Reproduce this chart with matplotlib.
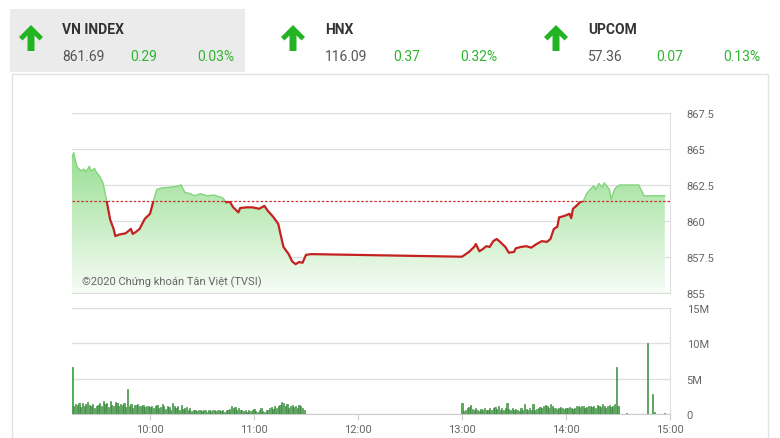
import numpy as np
import matplotlib
matplotlib.use("Agg")
import matplotlib.pyplot as plt
from matplotlib.colors import LinearSegmentedColormap
from matplotlib.patches import Rectangle, Polygon

plt.rcParams['font.family'] = ['Roboto', 'DejaVu Sans']

# header boxes
index_names = ["VN INDEX", "HNX", "UPCOM"]
index_values = ["861.69", "116.09", "57.36"]
index_changes = ["0.29", "0.37", "0.07"]
index_pcts = ["0.03%", "0.32%", "0.13%"]

# VN-Index intraday
ref_price = 861.40
price_times = ["09:15", "09:16", "09:17", "09:18", "09:20", "09:22", "09:23", "09:25",
               "09:26", "09:28", "09:29", "09:31", "09:33", "09:35", "09:37", "09:39",
               "09:40", "09:42", "09:44", "09:46", "09:49", "09:50", "09:52", "09:54",
               "09:57", "10:00", "10:02", "10:04", "10:07", "10:12", "10:15", "10:18",
               "10:20", "10:23", "10:26", "10:29", "10:33", "10:37", "10:42", "10:44",
               "10:46", "10:48", "10:51", "10:52", "10:56", "10:59", "11:03", "11:06",
               "11:08", "11:11", "11:14", "11:15", "11:17", "11:20", "11:22", "11:24",
               "11:26", "11:28", "11:30", "11:33", "13:00", "13:04", "13:07", "13:08",
               "13:10", "13:12", "13:14", "13:16", "13:18", "13:20", "13:22", "13:25",
               "13:27", "13:30", "13:31", "13:34", "13:37", "13:40", "13:43", "13:46",
               "13:49", "13:51", "13:53", "13:55", "13:56", "13:59", "14:02", "14:03",
               "14:04", "14:06", "14:08", "14:10", "14:12", "14:14", "14:16", "14:17",
               "14:19", "14:21", "14:22", "14:25", "14:26", "14:28", "14:29", "14:31",
               "14:42", "14:45", "14:57"]
price_values = [864.40, 864.75, 864.20, 863.75, 863.50, 863.60, 863.40, 863.80,
                863.45, 863.65, 863.40, 863.10, 862.60, 861.40, 860.10, 859.45,
                858.95, 859.05, 859.10, 859.15, 859.45, 859.10, 859.25, 859.45,
                860.15, 860.50, 861.40, 862.20, 862.30, 862.35, 862.40, 862.50,
                862.00, 861.90, 861.75, 861.90, 861.75, 861.80, 861.60, 861.30,
                861.35, 860.95, 860.60, 860.90, 860.95, 860.95, 860.85, 861.05,
                860.70, 860.30, 859.80, 859.25, 858.20, 857.70, 857.20, 857.00,
                857.15, 857.10, 857.65, 857.70, 857.52, 857.85, 858.20, 858.40,
                857.90, 858.05, 858.25, 858.20, 858.60, 858.75, 858.55, 858.20,
                857.80, 857.85, 858.10, 858.20, 858.25, 858.15, 858.40, 858.60,
                858.55, 858.75, 859.45, 859.60, 860.25, 860.35, 860.50, 860.20,
                860.85, 861.05, 861.30, 861.40, 861.90, 862.20, 862.45, 862.20,
                862.60, 862.35, 862.65, 862.20, 861.50, 862.20, 862.35, 862.50,
                862.50, 861.75, 861.75]

# volume (millions of shares), one bar per minute
am_start = "09:15"
am_volume = [6.6, 1.2, 1.4, 1.3, 1.5, 1.0, 1.6, 1.2, 1.4, 1.7, 1.3, 1.1, 1.4, 0.9, 1.2,
             1.3, 1.5, 1.1, 1.9, 1.4, 1.6, 1.0, 1.8, 1.3, 1.2, 1.7, 1.5, 1.1, 1.4, 1.3,
             1.6, 1.0, 3.6, 1.2, 1.4, 0.9, 1.3, 1.3, 1.4, 1.1, 1.2, 1.3, 1.0, 1.2, 1.1,
             1.0, 1.2, 0.9, 1.1, 1.3, 0.8, 1.0, 1.4, 1.2, 0.7, 1.1, 1.0, 0.6, 1.5, 1.2,
             0.8, 1.1, 0.6, 1.3, 0.7, 0.9, 1.0, 0.5, 0.8, 0.4, 0.6, 0.5, 0.4, 0.6, 0.5,
             0.4, 0.6, 0.5, 0.3, 0.5, 0.4, 0.6, 0.5, 0.4, 0.5, 0.6, 0.4, 0.5, 0.3, 0.6,
             0.5, 0.7, 1.2, 0.9, 1.0, 0.6, 0.8, 0.5, 0.6, 0.4, 0.5, 0.3, 0.6, 0.4, 0.5,
             0.7, 0.4, 0.3, 0.5, 0.9, 0.4, 0.3, 0.5, 0.6, 0.8, 1.0, 0.7, 1.2, 0.9, 1.1,
             1.3, 1.7, 1.5, 1.2, 1.4, 0.9, 1.1, 1.3, 1.0, 1.2, 0.8, 1.3, 1.1, 0.9, 0.6]
pm_start = "13:00"
pm_volume = [1.6, 0.4, 0.6, 0.8, 1.0, 1.3, 0.7, 0.5, 0.8, 0.6, 0.4, 0.7, 0.5, 0.9, 0.6,
             0.5, 0.8, 0.6, 0.9, 1.0, 0.7, 1.1, 0.6, 0.8, 0.5, 0.9, 1.6, 0.7, 0.6, 0.8,
             0.5, 0.7, 0.6, 0.4, 0.8, 0.6, 1.4, 0.7, 0.5, 0.9, 0.6, 1.4, 0.5, 0.7, 0.8,
             1.0, 0.9, 1.2, 1.3, 1.1, 0.9, 1.4, 1.2, 0.8, 0.9, 0.7, 0.8, 1.0, 0.9, 0.7,
             0.8, 0.9, 1.0, 0.8, 0.7, 0.9, 1.2, 1.1, 1.0, 1.2, 1.1, 0.9, 1.0, 1.2, 1.1,
             1.0, 1.2, 0.9, 1.3, 1.1, 1.0, 1.4, 1.2, 0.9, 1.1, 1.3, 1.0, 1.2, 1.4, 6.6,
             1.2]
late_times = ["14:35", "14:47", "14:50", "14:51", "14:57"]
late_volume = [0.1, 10.0, 2.8, 0.3, 0.15]

x_ticks = ["10:00", "11:00", "12:00", "13:00", "14:00", "15:00"]
price_ticks = [855, 857.5, 860, 862.5, 865, 867.5]
vol_ticks = [0, 5, 10, 15]
vol_tick_labels = ["0", "5M", "10M", "15M"]


def to_min(s):
    h, m = s.split(":")
    return int(h) * 60 + int(m)


t_price = np.array([to_min(s) for s in price_times])
v_price = np.array(price_values)
t_vol = np.concatenate([to_min(am_start) + np.arange(len(am_volume)),
                        to_min(pm_start) + np.arange(len(pm_volume)),
                        [to_min(s) for s in late_times]])
v_vol = np.concatenate([am_volume, pm_volume, late_volume])

x_min, x_max = to_min("09:15"), to_min("15:00")
grid_c = "#dedede"
label_c = "#666666"
green = "#2fb52f"

fig = plt.figure(figsize=(7.8, 4.39), dpi=100, facecolor="white")

# background overlay in pixel coordinates
bg = fig.add_axes([0, 0, 1, 1], zorder=0)
bg.set_xlim(0, 780)
bg.set_ylim(439, 0)
bg.axis("off")
bg.add_patch(Rectangle((12, 75), 756, 380, facecolor="white", edgecolor="#e2e2e2", lw=1))
bg.add_patch(Rectangle((10, 10), 235, 63, facecolor="#ebebeb", edgecolor="none"))

arrow_x = [31, 293, 556]
text_x = [62, 325, 588]
for i in range(3):
    cx = arrow_x[i]
    pts = [(cx, 26), (cx + 12, 38), (cx + 8.5, 41.5), (cx + 3.5, 36.5), (cx + 3.5, 52),
           (cx - 3.5, 52), (cx - 3.5, 36.5), (cx - 8.5, 41.5), (cx - 12, 38)]
    bg.add_patch(Polygon(pts, closed=True, facecolor="#22b422", edgecolor="none"))
    x0 = text_x[i]
    bg.text(x0, 30, index_names[i], fontsize=10, fontweight="bold", color="#333333",
            va="center", ha="left")
    bg.text(x0, 57, index_values[i], fontsize=10, color="#555555", va="center")
    bg.text(x0 + 68, 57, index_changes[i], fontsize=10, color=green, va="center")
    bg.text(x0 + 135, 57, index_pcts[i], fontsize=10, color=green, va="center")

# price chart
ax = fig.add_axes([72 / 780, 1 - 294 / 439, 598 / 780, 180 / 439], zorder=1)
ax.set_facecolor("none")

cmap = LinearSegmentedColormap.from_list("fade", ["#f6fcf5", "#8cdb86"])
poly = ax.fill_between(t_price, v_price, 855, facecolor="none", edgecolor="none")
grad = np.linspace(1, 0, 256).reshape(-1, 1)
im = ax.imshow(grad, extent=[x_min, x_max, 855, 866], aspect="auto", cmap=cmap,
               vmin=0, vmax=1, zorder=1)
im.set_clip_path(poly.get_paths()[0], transform=ax.transData)

line_up, = ax.plot(t_price, v_price, color="#82d47c", lw=1.0, zorder=3)
line_up.set_clip_path(Rectangle((x_min, ref_price), x_max - x_min, 10, transform=ax.transData))
line_dn, = ax.plot(t_price, v_price, color="#c42121", lw=1.6, zorder=3)
line_dn.set_clip_path(Rectangle((x_min, 850), x_max - x_min, ref_price - 850,
                                transform=ax.transData))
ax.axhline(ref_price, color="#c83030", lw=0.9, ls=(0, (2, 1.5)), zorder=4)

ax.set_xlim(x_min, x_max)
ax.set_ylim(855, 867.5)
ax.set_yticks(price_ticks)
ax.set_yticklabels([f"{p:g}" for p in price_ticks])
ax.yaxis.tick_right()
ax.tick_params(axis="y", length=0, pad=12, labelsize=8, labelcolor=label_c)
ax.set_xticks([])
ax.grid(axis="y", color=grid_c, lw=0.9, zorder=0)
ax.set_axisbelow(True)
for s in ["top", "bottom", "right"]:
    ax.spines[s].set_color(grid_c)
ax.spines["left"].set_visible(False)
ax.text(x_min + 6, 855.6, "©2020 Chứng khoán Tân Việt (TVSI)", fontsize=8,
        color="#666666", zorder=5)

# volume chart
ax2 = fig.add_axes([72 / 780, 1 - 415 / 439, 598 / 780, 106 / 439], zorder=1)
ax2.set_facecolor("none")
ax2.bar(t_vol, v_vol, width=0.7, color="#55b055", edgecolor="#2e7d32", lw=0.4, zorder=3)
ax2.set_xlim(x_min, x_max)
ax2.set_ylim(0, 15)
ax2.set_yticks(vol_ticks)
ax2.set_yticklabels(vol_tick_labels)
ax2.yaxis.tick_right()
ax2.tick_params(axis="y", length=0, pad=12, labelsize=8, labelcolor=label_c)
ax2.set_xticks([to_min(s) for s in x_ticks])
ax2.set_xticklabels(x_ticks)
ax2.tick_params(axis="x", length=4, width=0.8, color="#cccccc", pad=3,
                labelsize=8, labelcolor=label_c)
ax2.grid(axis="y", color=grid_c, lw=0.9, zorder=0)
ax2.set_axisbelow(True)
for s in ["top", "bottom", "right"]:
    ax2.spines[s].set_color(grid_c)
ax2.spines["bottom"].set_color("#cccccc")
ax2.spines["left"].set_visible(False)

fig.savefig("out.png", dpi=100, facecolor="white")
